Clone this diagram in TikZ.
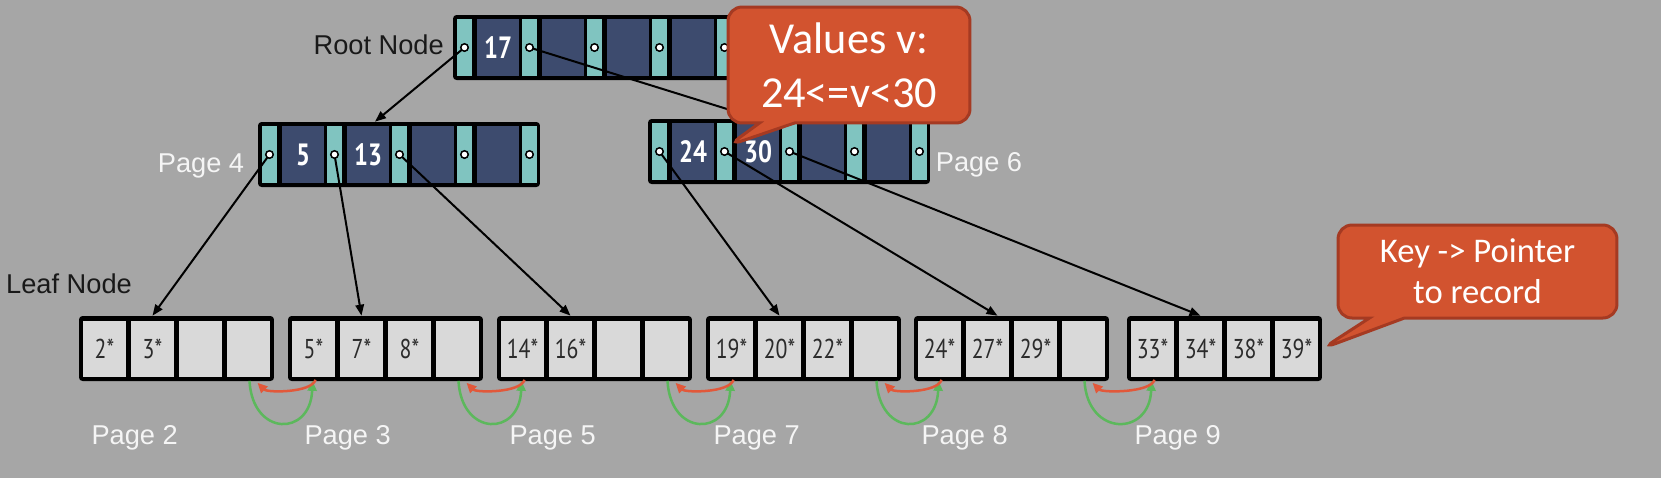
\documentclass[tikz,border=0pt]{standalone}
\usepackage{fontspec}
\setmainfont{Liberation Sans}
\newfontfamily\keyfont[FakeStretch=0.8]{PT Sans}
\newfontfamily\leaffont[FakeStretch=0.8]{PT Sans}
\newfontfamily\notefont{Carlito}
\usetikzlibrary{calc,arrows.meta,shapes.callouts}
\definecolor{bggray}{HTML}{A6A6A6}
\definecolor{ptrteal}{HTML}{80C4C0}
\definecolor{keyblue}{HTML}{3D4B6E}
\definecolor{cellgray}{HTML}{D9D9D9}
\definecolor{leaftext}{HTML}{2B2B2B}
\definecolor{notefill}{HTML}{D2532F}
\definecolor{noteedge}{HTML}{A53A22}
\definecolor{nextgreen}{HTML}{5CB85C}
\definecolor{prevred}{HTML}{E2583A}

\begin{document}
\begin{tikzpicture}[
  x=0.02cm, y=-0.02cm,
  pagebox/.style={fill=black,rounded corners=2pt,minimum width=5.64cm,minimum height=1.3cm,inner sep=0},
  ptrslot/.style={fill=ptrteal,minimum width=0.3cm,minimum height=1.14cm,inner sep=0},
  keyslot/.style={fill=keyblue,minimum width=0.84cm,minimum height=1.14cm,inner sep=0,text=white,font=\keyfont\bfseries\fontsize{17.5}{20}\selectfont},
  ptrdot/.style={circle,fill=white,draw=black,line width=0.03cm,minimum size=0.15cm,inner sep=0},
  leafbox/.style={fill=black,rounded corners=2pt,minimum width=3.9cm,minimum height=1.3cm,inner sep=0},
  leafcell/.style={fill=cellgray,minimum width=0.86cm,minimum height=1.12cm,inner sep=0,text=leaftext,font=\leaffont\fontsize{15.5}{18}\selectfont},
  pagelbl/.style={font=\fontsize{15.5}{18}\selectfont,text=white!96!black},
  ptrarrow/.style={-{Triangle[length=0.22cm,width=0.17cm]},line width=0.04cm,black},
  nextarr/.style={-{Triangle[length=0.2cm,width=0.18cm]},line width=0.05cm,nextgreen},
  prevarr/.style={-{Triangle[length=0.2cm,width=0.18cm]},line width=0.05cm,prevred},
  notebox/.style={rectangle callout,fill=notefill,draw=noteedge,line width=0.06cm,rounded corners=0.28cm,text=white,align=center,inner sep=0,callout pointer width=0.7cm},
]
% Background, fixes the bounds
\fill[bggray] (0,0) rectangle (1661,478);

% Inner pages: pointer slots and key slots
\foreach \nm/\xo/\yo/\ka/\kb in {root/453/47.5/17/{}, pgfour/258/154.5/5/13, pgsix/648/151.5/24/30} {
  \node[pagebox] (\nm) at (\xo+141,\yo) {};
  \foreach \i in {0,...,4}
    \node[ptrslot] (\nm-p\i) at (\xo+11.5+65*\i,\yo) {};
  \node[keyslot] (\nm-k0) at (\xo+45,\yo) {\ka};
  \node[keyslot] (\nm-k1) at (\xo+110,\yo) {\kb};
  \foreach \i in {2,3}
    \node[keyslot] (\nm-k\i) at (\xo+45+65*\i,\yo) {};
}

% Leaf pages
\foreach \nm/\xo/\ca/\cb/\cc/\cd in {pgtwo/79/2*/3*/{}/{}, pgthree/288/5*/7*/8*/{}, pgfive/497/14*/16*/{}/{},
    pgseven/706/19*/20*/22*/{}, pgeight/914/24*/27*/29*/{}, pgnine/1127/33*/34*/38*/39*} {
  \node[leafbox] (\nm) at (\xo+97.5,348.5) {};
  \node[leafcell] (\nm-c0) at (\xo+25.5,348.5) {\ca};
  \node[leafcell] (\nm-c1) at (\xo+73.5,348.5) {\cb};
  \node[leafcell] (\nm-c2) at (\xo+121.5,348.5) {\cc};
  \node[leafcell] (\nm-c3) at (\xo+169.5,348.5) {\cd};
}

% Child pointers
\draw[ptrarrow] (root-p0.center) -- ($(pgfour-k1 |- pgfour.north)+(7,0)$);
\draw[ptrarrow] (root-p1.center) -- (pgsix-k1 |- pgsix.north);
\draw[ptrarrow] (pgfour-p0.center) -- (pgtwo-c1 |- pgtwo.north);
\draw[ptrarrow] (pgfour-p1.center) -- (pgthree-c1 |- pgthree.north);
\draw[ptrarrow] (pgfour-p2.center) -- (pgfive-c1 |- pgfive.north);
\draw[ptrarrow] (pgsix-p0.center) -- (pgseven-c1 |- pgseven.north);
\draw[ptrarrow] (pgsix-p1.center) -- ($(pgeight-c1 |- pgeight.north)+(10,0)$);
\draw[ptrarrow] (pgsix-p2.center) -- (pgnine-c1 |- pgnine.north);

\foreach \nm in {root,pgfour,pgsix}
  \foreach \i in {0,...,4}
    \node[ptrdot] (\nm-d\i) at (\nm-p\i) {};

% Labels
\node[pagelbl,text=black!90,anchor=east] (rootlbl) at (450,45) {Root Node};
\node[pagelbl,text=black!90,anchor=west] (leaflbl) at (0,284) {Leaf Node};
\node[pagelbl] (pgfour-lbl) at (201,166) {Page 4};
\node[pagelbl] (pgsix-lbl) at (979,165) {Page 6};
\foreach \nm/\dx/\t in {pgtwo/56/2, pgthree/60/3, pgfive/56/5, pgseven/51/7, pgeight/51/8, pgnine/51/9}
  \node[pagelbl] (\nm-lbl) at ($(\nm.west)+(\dx,89)$) {Page \t};

% Sibling links between leaves
\foreach \l/\r in {pgtwo/pgthree, pgthree/pgfive, pgfive/pgseven, pgseven/pgeight, pgeight/pgnine} {
  \draw[nextarr] ($(\l-c3.south)+(1,4)$) .. controls +(3,56) and +(-2,56) .. ($(\r-c0.south)+(-1,4)$);
  \draw[prevarr] ($(\r-c0.south)+(2,3)$) .. controls +(-4,13) and +(10,10) .. ($(\l-c3.south)+(9,6)$);
}

% Callouts
\node[notebox,minimum width=4.84cm,minimum height=2.32cm,font=\notefont\fontsize{25.2}{30.7}\selectfont,
  callout absolute pointer={($(pgsix-p1)+(4,-6)$)}] (rangenote) at (849,65) {Values v:\\24<=v<30};
\node[notebox,minimum width=5.58cm,minimum height=1.86cm,font=\notefont\fontsize{19.7}{23.3}\selectfont,
  callout absolute pointer={(pgnine.east)}] (keynote) at (1477.5,271.5) {Key -> Pointer\\to record};
\end{tikzpicture}
\end{document}
